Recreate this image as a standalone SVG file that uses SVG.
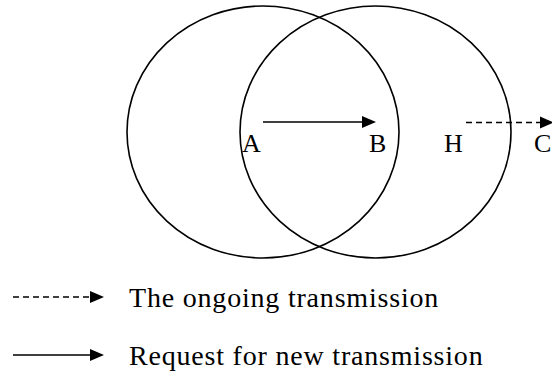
<svg xmlns="http://www.w3.org/2000/svg" width="552" height="373" viewBox="0 0 552 373">
  <style>
    .range { fill: none; stroke: #000; stroke-width: 1.6; }
    .link { stroke: #000; stroke-width: 1.6; fill: none; }
    .dash { stroke-dasharray: 6 4; }
    .lbl { font-family: "Liberation Serif", "Times New Roman", serif; font-size: 26px; fill: #000; }
    .leg { font-family: "Liberation Serif", "Times New Roman", serif; font-size: 28px; letter-spacing: 0.8px; fill: #000; }
    .head { fill: #000; }
  </style>
  <rect width="552" height="373" fill="#fff"/>

  <!-- transmission ranges -->
  <g id="range-left"><ellipse class="range" cx="263" cy="132" rx="136" ry="126"/></g>
  <g id="range-right"><ellipse class="range" cx="375.5" cy="132" rx="135.5" ry="126"/></g>

  <!-- stations -->
  <g id="node-A"><text class="lbl" x="242" y="152">A</text></g>
  <g id="node-B"><text class="lbl" x="369" y="152">B</text></g>
  <g id="node-H"><text class="lbl" x="444" y="152">H</text></g>
  <g id="node-C"><text class="lbl" x="534" y="152">C</text></g>

  <!-- links -->
  <g id="connectors">
    <line class="link" x1="263" y1="122" x2="363" y2="122"/>
    <polygon class="head" points="362,116 376,122 362,128"/>
    <line class="link dash" x1="466" y1="122.5" x2="540" y2="122.5"/>
    <polygon class="head" points="540,116.5 554,122.5 540,128.5"/>
  </g>

  <!-- legend -->
  <g id="legend">
    <line class="link dash" x1="13" y1="297" x2="91" y2="297"/>
    <polygon class="head" points="90,291 104,297 90,303"/>
    <text class="leg" x="129" y="306.5">The ongoing transmission</text>
    <line class="link" x1="13" y1="355" x2="91" y2="355"/>
    <polygon class="head" points="90,349 104,355 90,361"/>
    <text class="leg" x="129" y="365">Request for new transmission</text>
  </g>
</svg>
